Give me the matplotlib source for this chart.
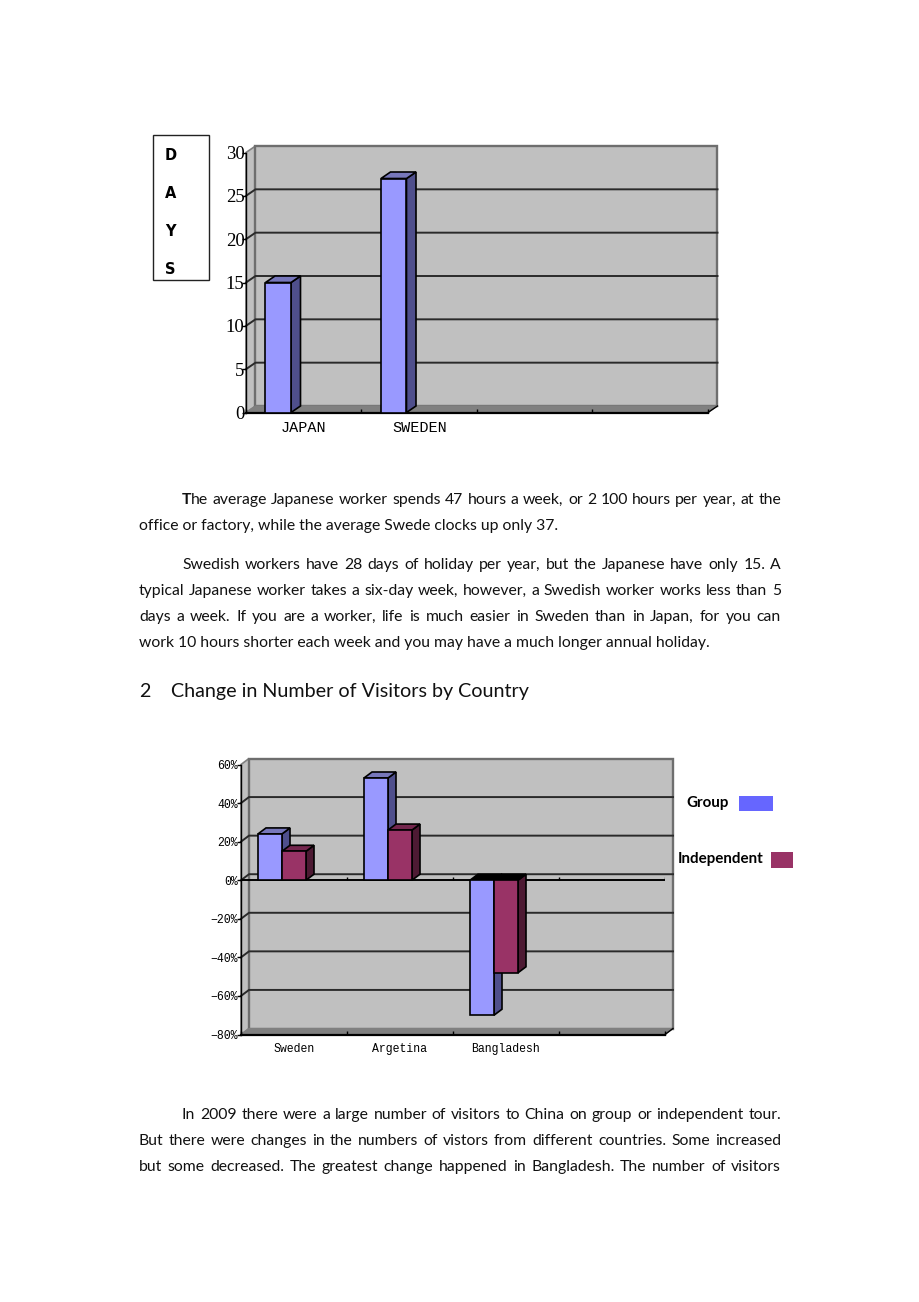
import matplotlib
matplotlib.use('Agg')
import matplotlib.pyplot as plt
from matplotlib.patches import Polygon, Rectangle

# chart 1
days_countries = ['JAPAN', 'SWEDEN', '', '']
days_values = [15, 27]
days_ticks = [0, 5, 10, 15, 20, 25, 30]

# chart 2
visitor_countries = ['Sweden', 'Argetina', 'Bangladesh', '']
group_change = [24, 53, -70]
independent_change = [15, 26, -48]
change_ticks = [-80, -60, -40, -20, 0, 20, 40, 60]
change_labels = ['\u221280%', '\u221260%', '\u221240%', '\u221220%', '0%', '20%', '40%', '60%']

days_letters = ['D', 'A', 'Y', 'S']
para_1 = ['he average Japanese worker spends 47 hours a week, or 2 100 hours per year, at the',
          'office or factory, while the average Swede clocks up only 37.']
para_2 = ['Swedish workers have 28 days of holiday per year, but the Japanese have only 15. A',
          'typical Japanese worker takes a six-day week, however, a Swedish worker works less than 5',
          'days a week. If you are a worker, life is much easier in Sweden than in Japan, for you can',
          'work 10 hours shorter each week and you may have a much longer annual holiday.']
para_3 = ['In 2009 there were a large number of visitors to China on group or independent tour.',
          'But there were changes in the numbers of vistors from different countries. Some increased',
          'but some decreased. The greatest change happened in Bangladesh. The number of visitors']

W, H = 920, 1302
BODY = 'Lato'
SERIF = 'Liberation Serif'
MONO = 'Liberation Mono'
WALL = '#c0c0c0'
FLOOR = '#808080'
BLUE = ('#9999ff', '#4f4f8c', '#7777bb')
WINE = ('#993366', '#4d1a33', '#73264d')


def chart_axes(left, right, top, bottom, xlim, ylim):
    ax = fig.add_axes([left / W, 1 - bottom / H, (right - left) / W, (bottom - top) / H])
    ax.set_xlim(*xlim)
    ax.set_ylim(*ylim)
    ax.patch.set_visible(False)
    for s in ['top', 'right']:
        ax.spines[s].set_visible(False)
    ax.spines['left'].set_linewidth(1.0)
    ax.spines['bottom'].set_linewidth(1.6)
    return ax


def poly(ax, pts, face, edge='black', lw=1.2, z=3):
    ax.add_patch(Polygon(pts, closed=True, facecolor=face, edgecolor=edge, linewidth=lw,
                         zorder=z, clip_on=False, joinstyle='miter'))


def draw_walls(ax, dx, dy, grid):
    x0, x1 = ax.get_xlim()
    y0, y1 = ax.get_ylim()
    # left wall, back wall, floor
    poly(ax, [(x0, y0), (x0 + dx, y0 + dy), (x0 + dx, y1 + dy), (x0, y1)], WALL, FLOOR, 1.2, 0.5)
    poly(ax, [(x0 + dx, y0 + dy), (x1 + dx, y0 + dy), (x1 + dx, y1 + dy), (x0 + dx, y1 + dy)],
         WALL, '#6e6e6e', 1.7, 0.6)
    poly(ax, [(x0, y0), (x0 + dx, y0 + dy), (x1 + dx, y0 + dy), (x1, y0)], FLOOR, FLOOR, 0.8, 0.7)
    for g in grid:
        ax.plot([x0, x0 + dx, x1 + dx], [g, g + dy, g + dy], color='#2a2a2a', lw=1.4,
                zorder=1, clip_on=False, solid_joinstyle='miter')
    ax.plot([x1, x1 + dx], [y0, y0 + dy], color='black', lw=1.0, zorder=1, clip_on=False)


def bar_3d(ax, left, width, value, colors, dx, dy, z=3):
    front, side, top = colors
    right = left + width
    poly(ax, [(right, 0), (right + dx, dy), (right + dx, value + dy), (right, value)], side, z=z)
    if value >= 0:
        poly(ax, [(left, value), (left + dx, value + dy), (right + dx, value + dy), (right, value)],
             top, z=z)
    else:
        # the top of a downward bar sits in the shadow
        poly(ax, [(left, 0), (left + dx, dy), (right + dx, dy), (right, 0)], 'black', z=z)
    poly(ax, [(left, 0), (right, 0), (right, value), (left, value)], front, z=z)


def slot_ticks(ax, labels, size):
    n = len(labels)
    ax.set_xticks(range(n + 1))
    ax.set_xticklabels([])
    ax.set_xticks([i + 0.5 for i in range(n)], labels=labels, minor=True)
    ax.tick_params(axis='x', which='major', direction='in', length=3, width=1)
    ax.tick_params(axis='x', which='minor', length=0, pad=6, labelsize=size)
    for t in ax.get_xticklabels(minor=True):
        t.set_family(MONO)


def justified(page, line, x0, x1, base, size=11.3):
    words = line.split(' ')
    items = [page.text(0, base, w, family=BODY, fontsize=size, color='#111111', va='baseline')
             for w in words]
    r = fig.canvas.get_renderer()
    widths = [t.get_window_extent(r).width for t in items]
    gap = (x1 - x0 - sum(widths)) / (len(words) - 1)
    x = x0
    for t, w in zip(items, widths):
        t.set_x(x)
        x += w + gap


fig = plt.figure(figsize=(W / 100, H / 100), dpi=100, facecolor='white')
page = fig.add_axes([0, 0, 1, 1])
page.set_xlim(0, W)
page.set_ylim(H, 0)
page.axis('off')

# ---- days of holiday
ax1 = chart_axes(246, 708, 152.5, 412.5, (0, 4), (0, 30))
dx1 = 9.5 / 462 * 4
dy1 = 6.5 / 260 * 30
draw_walls(ax1, dx1, dy1, days_ticks[1:-1])
bar_w1 = 25.5 / 115.5
for i, v in enumerate(days_values):
    bar_3d(ax1, i + 0.5 - 1.5 * bar_w1, bar_w1, v, BLUE, dx1, dy1)
ax1.set_yticks(days_ticks)
ax1.tick_params(axis='y', direction='out', length=3, width=1, pad=-2, labelsize=13.5)
for t in ax1.get_yticklabels():
    t.set_family(SERIF)
slot_ticks(ax1, days_countries, 10.9)

page.add_patch(Rectangle((153, 135), 56, 145, facecolor='white', edgecolor='#222222', lw=1))
for letter, y in zip(days_letters, [155, 194, 231, 269]):
    page.text(170.5, y, letter, family='DejaVu Sans', fontweight='bold', fontsize=10.5,
              ha='center', va='center', color='black')

# ---- visitors
ax2 = chart_axes(241, 665, 764.5, 1034.5, (0, 4), (-80, 60))
dx2 = 8 / 424 * 4
dy2 = 6 / 270 * 140
draw_walls(ax2, dx2, dy2, [g for g in change_ticks[1:-1]])
ax2.plot([0, 4], [0, 0], color='black', lw=1.4, zorder=1.5)
ax2.vlines(range(1, 5), 0, 1.7, color='black', lw=1, zorder=1.5)
bar_w2 = 24 / 106
for i in range(len(group_change)):
    left = i + 0.5 - 1.5 * bar_w2
    bar_3d(ax2, left, bar_w2, group_change[i], BLUE, dx2, dy2)
    bar_3d(ax2, left + bar_w2, bar_w2, independent_change[i], WINE, dx2, dy2)
ax2.set_yticks(change_ticks, labels=change_labels)
ax2.tick_params(axis='y', direction='out', length=3, width=1, pad=-1, labelsize=8.3)
for t in ax2.get_yticklabels():
    t.set_family(MONO)
slot_ticks(ax2, visitor_countries, 8.3)

# legend is loose shapes next to the chart
page.text(686, 807, 'Group', family=BODY, fontweight='bold', fontsize=10.9, color='black')
page.add_patch(Rectangle((739, 796), 34, 15, facecolor='#6666ff', edgecolor='none'))
page.text(678, 863, 'Independent', family=BODY, fontweight='bold', fontsize=10.9, color='black')
page.add_patch(Rectangle((771, 852), 22, 16, facecolor='#993366', edgecolor='none'))

# ---- body text
L, R = 139, 781
page.text(182, 504, 'T', family=BODY, fontweight='bold', fontsize=11.3, color='#111111')
justified(page, para_1[0], 191, R, 504)
page.text(L, 530, para_1[1], family=BODY, fontsize=11.3, color='#111111')
justified(page, para_2[0], 182, R, 569)
justified(page, para_2[1], L, R, 595)
justified(page, para_2[2], L, R, 621)
page.text(L, 647, para_2[3], family=BODY, fontsize=11.3, color='#111111')
page.text(L, 697, '2', family=BODY, fontsize=14.2, color='#111111')
page.text(171, 697, 'Change in Number of Visitors by Country', family=BODY, fontsize=14.2, color='#111111')
justified(page, para_3[0], 182, R, 1119)
justified(page, para_3[1], L, R, 1145)
justified(page, para_3[2], L, R, 1171)

fig.savefig('out.png', dpi=100)
